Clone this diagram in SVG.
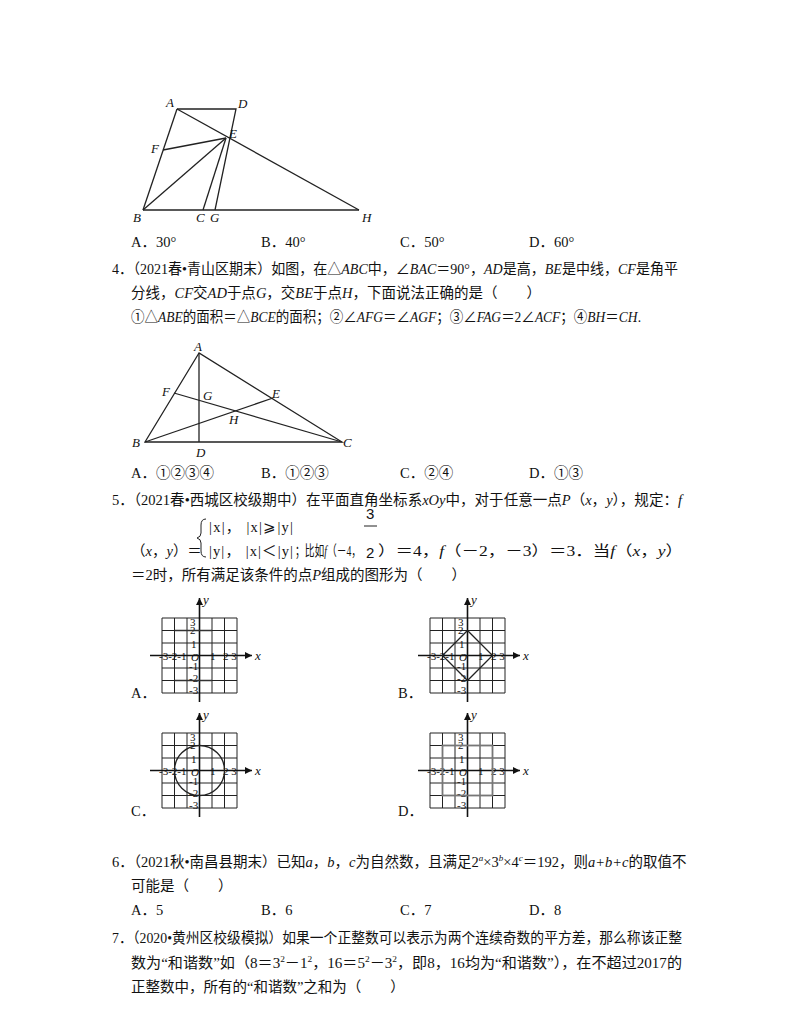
<svg xmlns="http://www.w3.org/2000/svg" width="800" height="1035" viewBox="0 0 800 1035">
<style>
.t{font-family:"Liberation Serif","Noto Sans CJK SC",serif;font-size:14.5px;fill:#111}
.l{font-family:"Liberation Serif",serif;font-style:italic;font-size:13px;fill:#111}
.i{font-style:italic}
.g{stroke:#222;stroke-width:1;fill:none}
.s{stroke:#222;stroke-width:1.3;fill:none}
.n{font-family:"Liberation Serif",serif;font-size:11px;fill:#111}
</style>
<rect width="800" height="1035" fill="#fff"/>
<g id="fig1" class="s">
<polyline points="177,109 236,109 215,210"/>
<line x1="177" y1="109" x2="143" y2="210"/>
<line x1="143" y1="210" x2="359" y2="210"/>
<line x1="177" y1="109" x2="359" y2="210"/>
<line x1="163" y1="150" x2="226" y2="138"/>
<line x1="143" y1="210" x2="226" y2="138"/>
<line x1="203" y1="210" x2="226" y2="138"/>
</g>
<g id="fig1-labels">
<text class="l" x="166" y="107">A</text><text class="l" x="238" y="108">D</text><text class="l" x="229" y="138">E</text>
<text class="l" x="151" y="153">F</text><text class="l" x="133" y="222">B</text><text class="l" x="196" y="222">C</text>
<text class="l" x="210" y="222">G</text><text class="l" x="362" y="222">H</text>
</g>
<g id="q3opts" class="t"><text x="131" y="247">A．30°</text><text x="261" y="247">B．40°</text><text x="400" y="247">C．50°</text><text x="529" y="247">D．60°</text></g>
<g id="q4" class="t">
<text x="112" y="274" textLength="566" lengthAdjust="spacingAndGlyphs">4．（2021春•青山区期末）如图，在△<tspan class="i">ABC</tspan>中，∠<tspan class="i">BAC</tspan>＝90°，<tspan class="i">AD</tspan>是高，<tspan class="i">BE</tspan>是中线，<tspan class="i">CF</tspan>是角平</text>
<text x="131" y="298">分线，<tspan class="i">CF</tspan>交<tspan class="i">AD</tspan>于点<tspan class="i">G</tspan>，交<tspan class="i">BE</tspan>于点<tspan class="i">H</tspan>，下面说法正确的是（　　）</text>
<text x="131" y="322" textLength="510" lengthAdjust="spacingAndGlyphs">①△<tspan class="i">ABE</tspan>的面积＝△<tspan class="i">BCE</tspan>的面积；②∠<tspan class="i">AFG</tspan>＝∠<tspan class="i">AGF</tspan>；③∠<tspan class="i">FAG</tspan>＝2∠<tspan class="i">ACF</tspan>；④<tspan class="i">BH</tspan>＝<tspan class="i">CH</tspan>.</text>
</g>
<g id="fig2" class="s">
<polygon points="199,353 145,442 342,442"/>
<line x1="199" y1="353" x2="199" y2="442"/>
<line x1="174" y1="393" x2="342" y2="442"/>
<line x1="145" y1="442" x2="273" y2="398"/>
</g>
<g id="fig2-labels">
<text class="l" x="194" y="351">A</text><text class="l" x="162" y="396">F</text><text class="l" x="203" y="400">G</text>
<text class="l" x="272" y="398">E</text><text class="l" x="229" y="424">H</text><text class="l" x="132" y="447">B</text>
<text class="l" x="343" y="447">C</text><text class="l" x="196" y="457">D</text>
</g>
<g id="q4opts" class="t"><text x="131" y="478">A．①②③④</text><text x="261" y="478">B．①②③</text><text x="400" y="478">C．②④</text><text x="529" y="478">D．①③</text></g>
<g id="q5" class="t">
<text x="112" y="505" textLength="570" lengthAdjust="spacingAndGlyphs">5．（2021春•西城区校级期中）在平面直角坐标系<tspan class="i">xOy</tspan>中，对于任意一点<tspan class="i">P</tspan>（<tspan class="i">x</tspan>，<tspan class="i">y</tspan>），规定：<tspan class="i">f</tspan></text>
<text x="131" y="556">（<tspan class="i">x</tspan>，<tspan class="i">y</tspan>）＝</text>
<path d="M206,519 q-5,0 -5,6 v8 q0,4 -4,5 q4,1 4,5 v8 q0,6 5,6" class="g" stroke-width="1.5"/>
<text x="209" y="532" textLength="84" lengthAdjust="spacing">|x|，  |x|⩾|y|</text>
<text x="209" y="556" textLength="84" lengthAdjust="spacing">|y|，  |x|＜|y|</text>
<text x="366" y="519" font-family="Liberation Sans" font-size="15">3</text>
<line x1="364" y1="526" x2="377" y2="526" class="g"/>
<text x="366" y="558" font-family="Liberation Sans" font-size="15">2</text>
<text x="295" y="556" textLength="66" lengthAdjust="spacingAndGlyphs">；比如<tspan class="i">f</tspan>（－4，</text>
<text x="378" y="556" textLength="305" lengthAdjust="spacingAndGlyphs">）＝4，<tspan class="i">f</tspan>（－2，－3）＝3．当<tspan class="i">f</tspan>（<tspan class="i">x</tspan>，<tspan class="i">y</tspan>）</text>
<text x="131" y="580">＝2时，所有满足该条件的点<tspan class="i">P</tspan>组成的图形为（　　）</text>
</g>
<defs>
<g id="grid">
<path class="g" d="M0,0h75v75h-75z M12.5,0v75 M25,0v75 M50,0v75 M62.5,0v75 M0,12.5h75 M0,25h75 M0,50h75 M0,62.5h75"/>
<line x1="-12" y1="37.5" x2="90" y2="37.5" stroke="#111" stroke-width="1.6"/>
<line x1="37.5" y1="84" x2="37.5" y2="-20" stroke="#111" stroke-width="1.6"/>
<path d="M90,37.5 l-7,-3.5 v7z M37.5,-20 l-3.5,7 h7z" fill="#111"/>
<text class="l" x="93" y="42">x</text><text class="l" x="41" y="-14">y</text>
<text class="n" x="-3" y="42">-3-2-1</text><text class="n" x="29" y="43" font-style="italic" font-size="13">O</text>
<text class="n" x="48" y="42">1</text><text class="n" x="61" y="42">2 3</text>
<text class="n" x="28" y="8">3</text><text class="n" x="28" y="16">2</text><text class="n" x="29" y="30">1</text>
<text class="n" x="27" y="52">-1</text><text class="n" x="27" y="64">-2</text><text class="n" x="27" y="76">-3</text>
</g>
</defs>
<g id="figA"><use href="#grid" x="162" y="618"/>
<path d="M174.5,630.5h37.5 M174.5,680.5h37.5" stroke="#333" stroke-width="1.6"/></g>
<g id="figB"><use href="#grid" x="430" y="618"/>
<polygon points="467.5,630.5 492.5,655.5 467.5,680.5 442.5,655.5" class="s" stroke-width="1.8"/></g>
<g id="figC"><use href="#grid" x="162" y="733"/>
<circle cx="199.5" cy="770.5" r="25" class="s" stroke-width="1.8"/></g>
<g id="figD"><use href="#grid" x="430" y="733"/>
<rect x="442.5" y="745.5" width="50" height="50" fill="none" stroke="#777" stroke-width="1.8"/></g>
<g id="q5opts" class="t"><text x="131" y="698">A．</text><text x="398" y="698">B．</text><text x="131" y="816">C．</text><text x="398" y="816">D．</text></g>
<g id="q6" class="t">
<text x="112" y="867">6．（2021秋•南昌县期末）已知<tspan class="i">a</tspan>，<tspan class="i">b</tspan>，<tspan class="i">c</tspan>为自然数，且满足2<tspan class="i" font-size="9" dy="-6">a</tspan><tspan dy="6">×3</tspan><tspan class="i" font-size="9" dy="-6">b</tspan><tspan dy="6">×4</tspan><tspan class="i" font-size="9" dy="-6">c</tspan><tspan dy="6">＝192，则</tspan><tspan class="i">a+b+c</tspan>的取值不</text>
<text x="131" y="891">可能是（　　）</text>
<text x="131" y="915">A．5</text><text x="261" y="915">B．6</text><text x="400" y="915">C．7</text><text x="529" y="915">D．8</text>
</g>
<g id="q7" class="t">
<text x="112" y="943" textLength="570" lengthAdjust="spacingAndGlyphs">7．（2020•黄州区校级模拟）如果一个正整数可以表示为两个连续奇数的平方差，那么称该正整</text>
<text x="131" y="968" textLength="551" lengthAdjust="spacingAndGlyphs">数为“和谐数”如（8＝3<tspan font-size="9" dy="-6">2</tspan><tspan dy="6">－1</tspan><tspan font-size="9" dy="-6">2</tspan><tspan dy="6">，16＝5</tspan><tspan font-size="9" dy="-6">2</tspan><tspan dy="6">－3</tspan><tspan font-size="9" dy="-6">2</tspan><tspan dy="6">，即8，16均为“和谐数”），在不超过2017的</tspan></text>
<text x="131" y="992">正整数中，所有的“和谐数”之和为（　　）</text>
</g>
</svg>
